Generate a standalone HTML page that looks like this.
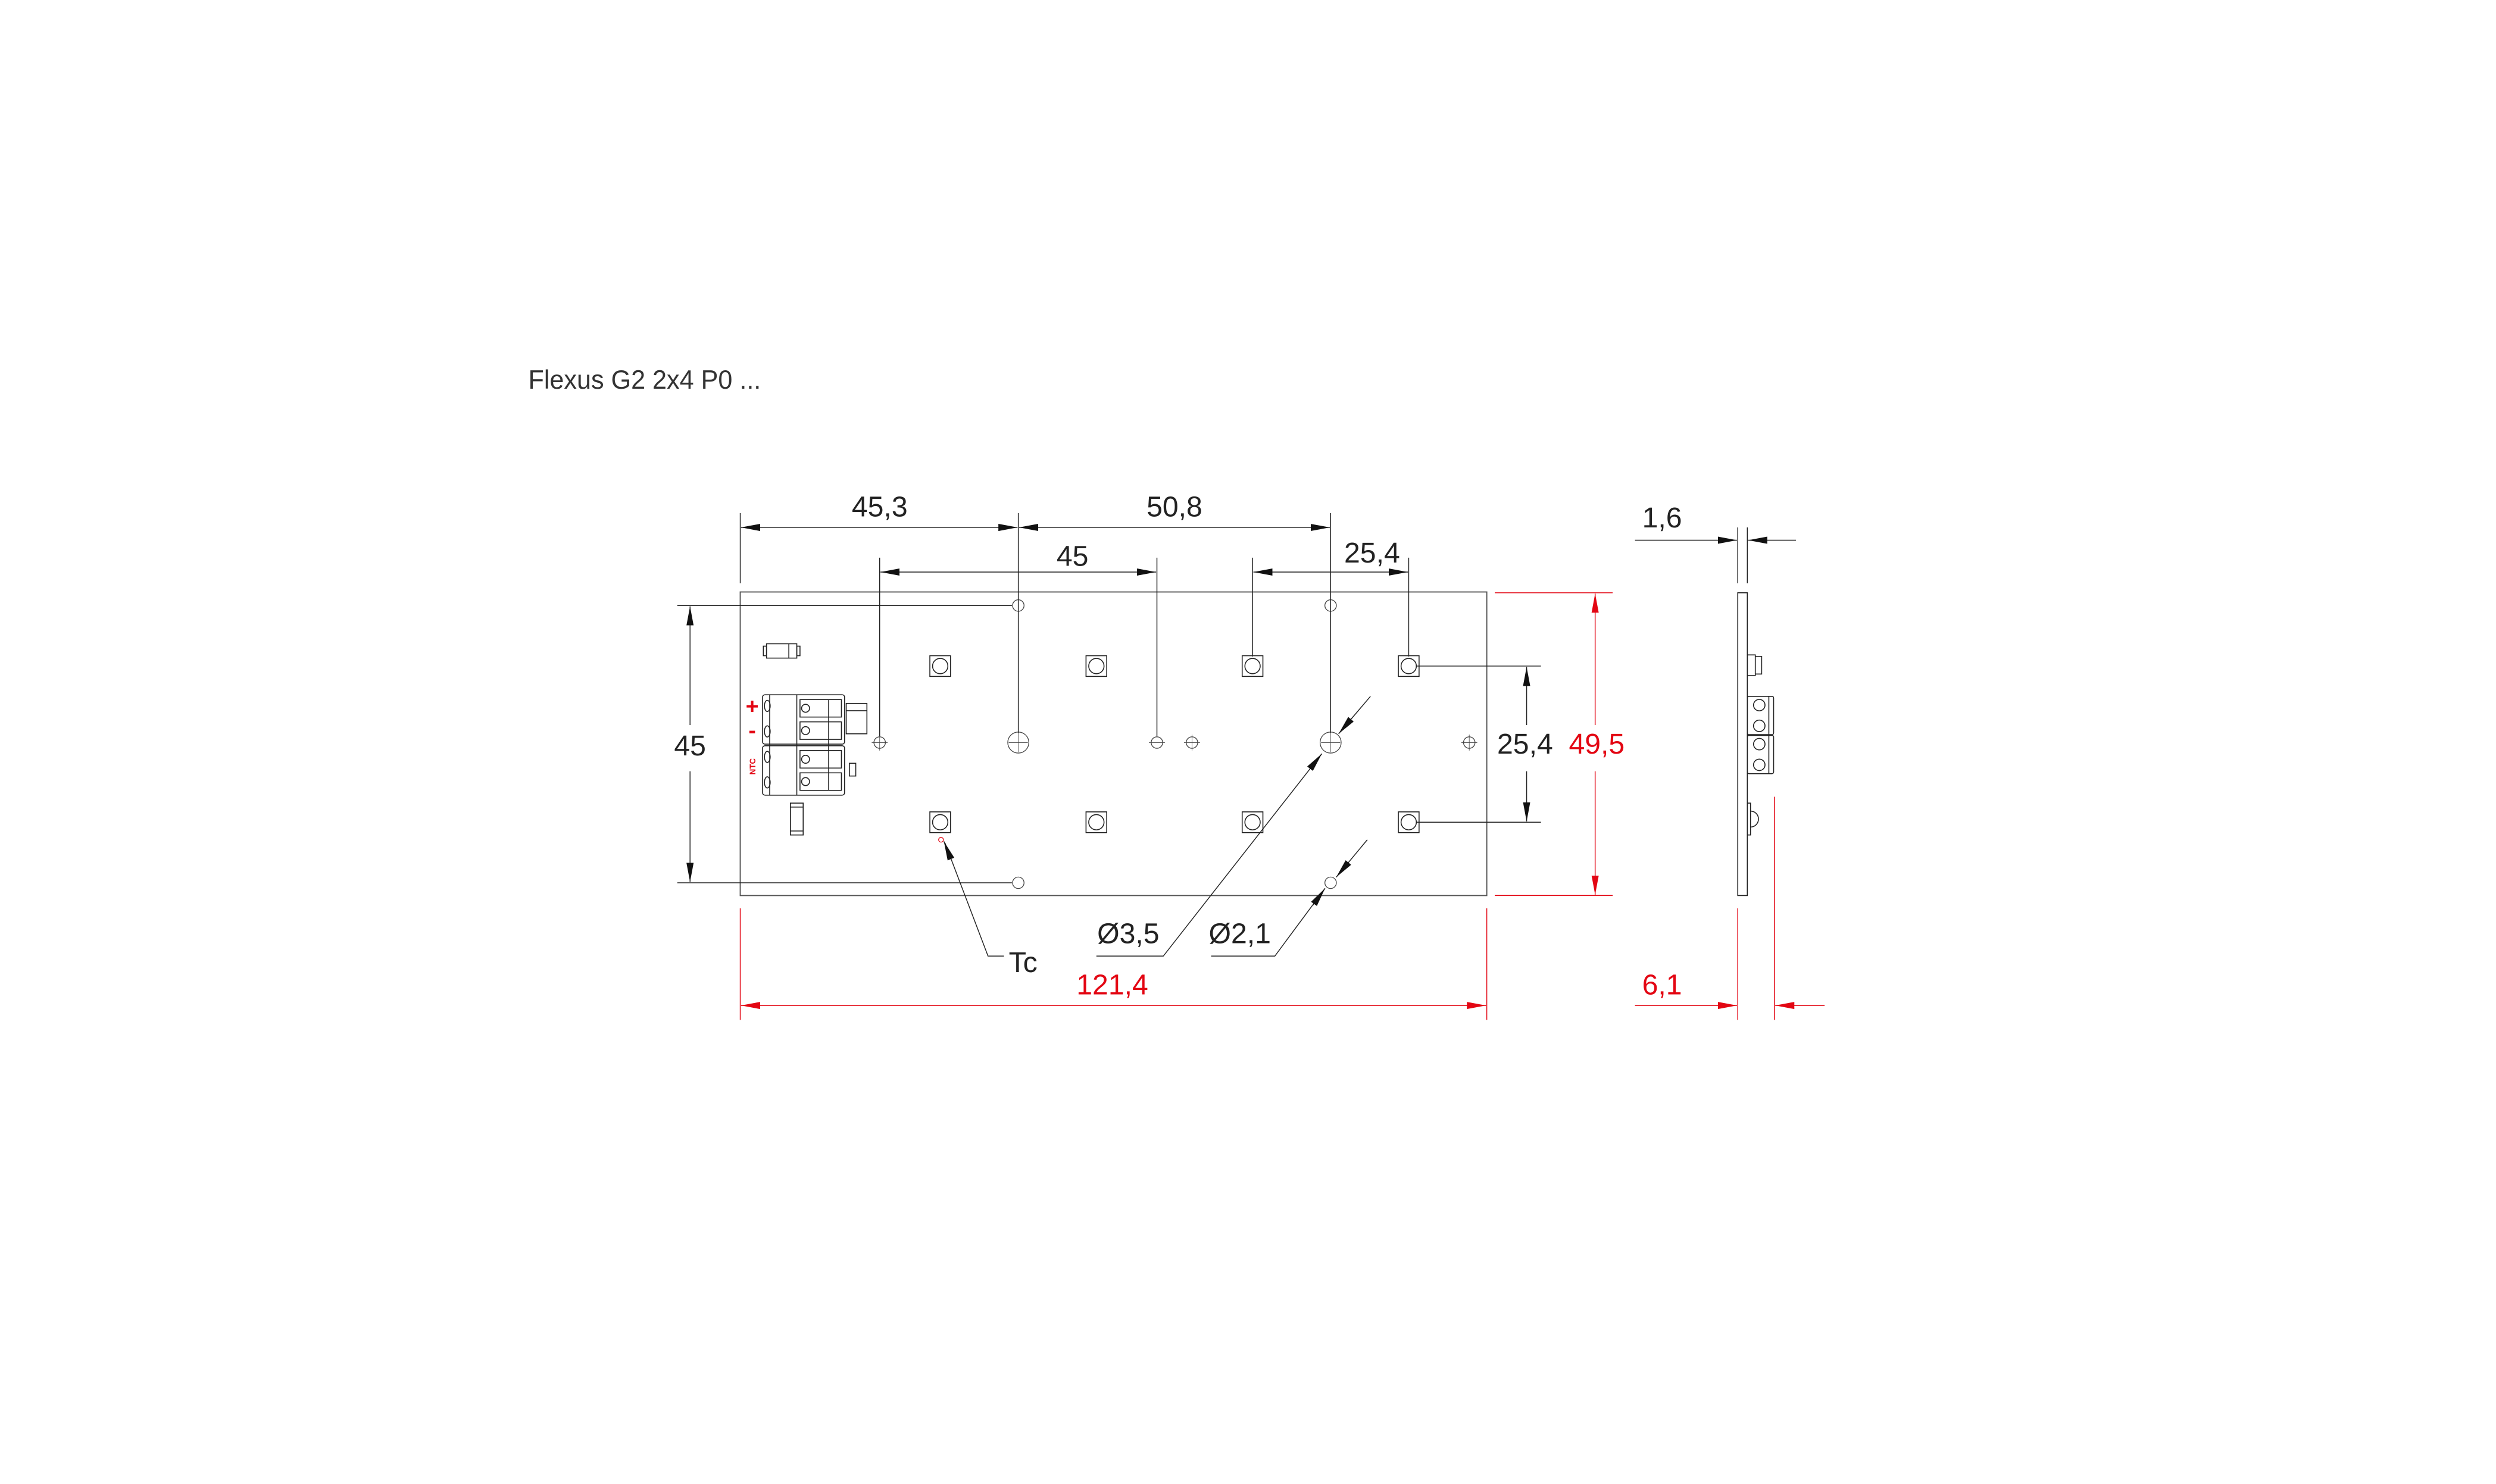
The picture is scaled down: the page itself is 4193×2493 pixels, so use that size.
<!DOCTYPE html>
<html><head><meta charset="utf-8"><style>
html,body{margin:0;padding:0;background:#fff;}
svg{display:block;}
text{font-family:"Liberation Sans",sans-serif;}
</style></head><body>
<svg width="4193" height="2493" viewBox="0 0 1566.3 931.3" xmlns="http://www.w3.org/2000/svg">
<defs>
<marker id="ab" markerUnits="userSpaceOnUse" markerWidth="13" markerHeight="5" refX="12" refY="2.25" orient="auto-start-reverse" viewBox="0 0 13 4.5"><path d="M0,0 L12,2.25 L0,4.5z" fill="#111"/></marker>
<marker id="ar" markerUnits="userSpaceOnUse" markerWidth="13" markerHeight="5" refX="12" refY="2.25" orient="auto-start-reverse" viewBox="0 0 13 4.5"><path d="M0,0 L12,2.25 L0,4.5z" fill="#e30613"/></marker>
</defs>
<rect width="1566.3" height="931.3" fill="#fff"/>
<text x="331.5" y="244" font-size="16.5" fill="#333" textLength="146" lengthAdjust="spacingAndGlyphs">Flexus G2 2x4 P0 ...</text>

<!-- board -->
<rect x="464.5" y="371.5" width="468.5" height="190.5" fill="none" stroke="#555" stroke-width="0.7"/>

<!-- holes small -->
<g fill="none" stroke="#444" stroke-width="0.5">
<circle cx="639" cy="380" r="3.6"/><circle cx="835" cy="380" r="3.6"/>
<circle cx="639" cy="554" r="3.6"/><circle cx="835" cy="554" r="3.6"/>
<circle cx="552" cy="466" r="3.6"/><circle cx="726" cy="466" r="3.6"/>
<circle cx="748" cy="466" r="3.6"/><circle cx="922" cy="466" r="3.6"/>
<circle cx="639" cy="466" r="6.6"/><circle cx="835" cy="466" r="6.6"/>
<path d="M633,466h12M639,460v12M829,466h12M835,460v12M547,466h10M721,466h10M743,466h10M917,466h10M748,461v10M922,461v10M552,461v10" stroke-width="0.3"/>
</g>
<!-- LED pads -->
<g fill="none" stroke="#222" stroke-width="0.6">
<rect x="583.5" y="411.5" width="13" height="13"/><circle cx="590" cy="418" r="4.8"/>
<rect x="681.5" y="411.5" width="13" height="13"/><circle cx="688" cy="418" r="4.8"/>
<rect x="779.5" y="411.5" width="13" height="13"/><circle cx="786" cy="418" r="4.8"/>
<rect x="877.5" y="411.5" width="13" height="13"/><circle cx="884" cy="418" r="4.8"/>
<rect x="583.5" y="509.5" width="13" height="13"/><circle cx="590" cy="516" r="4.8"/>
<rect x="681.5" y="509.5" width="13" height="13"/><circle cx="688" cy="516" r="4.8"/>
<rect x="779.5" y="509.5" width="13" height="13"/><circle cx="786" cy="516" r="4.8"/>
<rect x="877.5" y="509.5" width="13" height="13"/><circle cx="884" cy="516" r="4.8"/>
</g>
<circle cx="590.5" cy="527" r="1.5" fill="none" stroke="#e30613" stroke-width="0.5"/>

<!-- connectors -->
<g fill="none" stroke="#222" stroke-width="0.6">
<rect x="481" y="404" width="19" height="9"/><rect x="479" y="405.5" width="2" height="6"/><rect x="500" y="405.5" width="2" height="6"/><line x1="495" y1="404" x2="495" y2="413"/>
<rect x="478.5" y="436" width="51.5" height="31" rx="1.5"/>
<rect x="478.5" y="468" width="51.5" height="31" rx="1.5"/>
<line x1="483" y1="436" x2="483" y2="499"/><line x1="500" y1="436" x2="500" y2="499"/>
<rect x="502" y="439" width="26" height="11"/><rect x="502" y="453" width="26" height="11"/>
<rect x="502" y="471" width="26" height="11"/><rect x="502" y="485" width="26" height="11"/>
<circle cx="505.5" cy="444.5" r="2.5"/><circle cx="505.5" cy="458.5" r="2.5"/><circle cx="505.5" cy="476.5" r="2.5"/><circle cx="505.5" cy="490.5" r="2.5"/>
<line x1="520" y1="439" x2="520" y2="496"/>
<ellipse cx="481.5" cy="443" rx="1.8" ry="3.5"/><ellipse cx="481.5" cy="459" rx="1.8" ry="3.5"/><ellipse cx="481.5" cy="475" rx="1.8" ry="3.5"/><ellipse cx="481.5" cy="491" rx="1.8" ry="3.5"/>
<rect x="531" y="441.5" width="13" height="19"/><line x1="531" y1="446" x2="544" y2="446"/>
<rect x="533" y="479" width="4" height="8"/>
<rect x="496" y="504" width="8" height="20"/><line x1="496" y1="506.5" x2="504" y2="506.5"/><line x1="496" y1="521.5" x2="504" y2="521.5"/>
</g>
<g fill="#e30613" font-weight="bold">
<text x="472" y="448" font-size="14" text-anchor="middle">+</text>
<text x="472" y="463" font-size="14" text-anchor="middle">-</text>
<text x="0" y="0" font-size="5" text-anchor="middle" transform="translate(474,481) rotate(-90)">NTC</text>
</g>

<!-- black dimension lines -->
<g stroke="#222" stroke-width="0.55" fill="none">
<line x1="464.5" y1="322" x2="464.5" y2="366"/>
<line x1="639" y1="322" x2="639" y2="460"/>
<line x1="835" y1="322" x2="835" y2="460"/>
<line x1="465" y1="331" x2="638.5" y2="331" marker-start="url(#ab)" marker-end="url(#ab)"/>
<line x1="639.5" y1="331" x2="834.5" y2="331" marker-start="url(#ab)" marker-end="url(#ab)"/>
<line x1="552" y1="350" x2="552" y2="462"/>
<line x1="726" y1="350" x2="726" y2="462"/>
<line x1="552.5" y1="359" x2="725.5" y2="359" marker-start="url(#ab)" marker-end="url(#ab)"/>
<line x1="786" y1="350" x2="786" y2="412"/>
<line x1="884" y1="350" x2="884" y2="412"/>
<line x1="786.5" y1="359" x2="883.5" y2="359" marker-start="url(#ab)" marker-end="url(#ab)"/>
<line x1="425" y1="380" x2="635" y2="380"/>
<line x1="425" y1="554" x2="635" y2="554"/>
<line x1="433" y1="380.5" x2="433" y2="455" marker-start="url(#ab)"/>
<line x1="433" y1="484" x2="433" y2="553.5" marker-end="url(#ab)"/>
<line x1="889" y1="418" x2="967" y2="418"/>
<line x1="889" y1="516" x2="967" y2="516"/>
<line x1="958" y1="418.5" x2="958" y2="455" marker-start="url(#ab)"/>
<line x1="958" y1="484" x2="958" y2="515.5" marker-end="url(#ab)"/>
<line x1="1090.5" y1="331" x2="1090.5" y2="366"/>
<line x1="1096.5" y1="331" x2="1096.5" y2="366"/>
<line x1="1026" y1="339" x2="1090" y2="339" marker-end="url(#ab)"/>
<line x1="1127" y1="339" x2="1097" y2="339" marker-end="url(#ab)"/>
<polyline points="688,600 730,600 829.5,473"/>
<line x1="835" y1="466" x2="829.5" y2="473" stroke="none"/>
<line x1="822" y1="482.5" x2="829.5" y2="473" marker-end="url(#ab)"/>
<line x1="860" y1="437" x2="840" y2="460.5" marker-end="url(#ab)"/>
<polyline points="760,600 800,600 831.5,557.5"/>
<line x1="858" y1="527" x2="838.5" y2="550.5" marker-end="url(#ab)"/>
<line x1="824" y1="568" x2="831.5" y2="557.5" marker-end="url(#ab)"/>
<polyline points="630,600 620,600 593,529" />
<line x1="596.5" y1="538.5" x2="592.3" y2="528" marker-end="url(#ab)"/>
</g>
<g font-size="18" fill="#222" text-anchor="middle">
<text x="552" y="324">45,3</text>
<text x="737" y="324">50,8</text>
<text x="673" y="355">45</text>
<text x="861" y="353">25,4</text>
<text x="433" y="474">45</text>
<text x="957" y="473">25,4</text>
<text x="1043" y="331">1,6</text>
<text x="708" y="592">Ø3,5</text>
<text x="778" y="592">Ø2,1</text>
<text x="642" y="610">Tc</text>
</g>

<!-- red dims -->
<g stroke="#e30613" stroke-width="0.55" fill="none">
<line x1="938" y1="372" x2="1012" y2="372"/>
<line x1="938" y1="562" x2="1012" y2="562"/>
<line x1="1001" y1="372.5" x2="1001" y2="455" marker-start="url(#ar)"/>
<line x1="1001" y1="484" x2="1001" y2="561.5" marker-end="url(#ar)"/>
<line x1="464.5" y1="570" x2="464.5" y2="640"/>
<line x1="933" y1="570" x2="933" y2="640"/>
<line x1="465" y1="631" x2="932.5" y2="631" marker-start="url(#ar)" marker-end="url(#ar)"/>
<line x1="1090.5" y1="570" x2="1090.5" y2="640"/>
<line x1="1113.5" y1="500" x2="1113.5" y2="640"/>
<line x1="1026" y1="631" x2="1090" y2="631" marker-end="url(#ar)"/>
<line x1="1145" y1="631" x2="1114" y2="631" marker-end="url(#ar)"/>
</g>
<g font-size="18" fill="#e30613" text-anchor="middle">
<text x="1002" y="473">49,5</text>
<text x="698" y="624">121,4</text>
<text x="1043" y="624">6,1</text>
</g>

<!-- side view -->
<g fill="none" stroke="#222" stroke-width="0.6">
<rect x="1090.5" y="372" width="6" height="190"/>
<rect x="1096.5" y="411" width="5" height="13"/><path d="M1101.5,412 h4 v11 h-4"/>
<rect x="1096.5" y="437" width="16.5" height="24" rx="1"/>
<rect x="1096.5" y="461.5" width="16.5" height="24" rx="1"/>
<circle cx="1104" cy="442.5" r="3.6"/><circle cx="1104" cy="455.5" r="3.6"/>
<circle cx="1104" cy="467" r="3.6"/><circle cx="1104" cy="480" r="3.6"/>
<line x1="1110" y1="437" x2="1110" y2="485.5"/>
<rect x="1096.5" y="504" width="2" height="20"/>
<path d="M1098.5,509 a5,5 0 0 1 0,10"/>
</g>
</svg>
</body></html>
